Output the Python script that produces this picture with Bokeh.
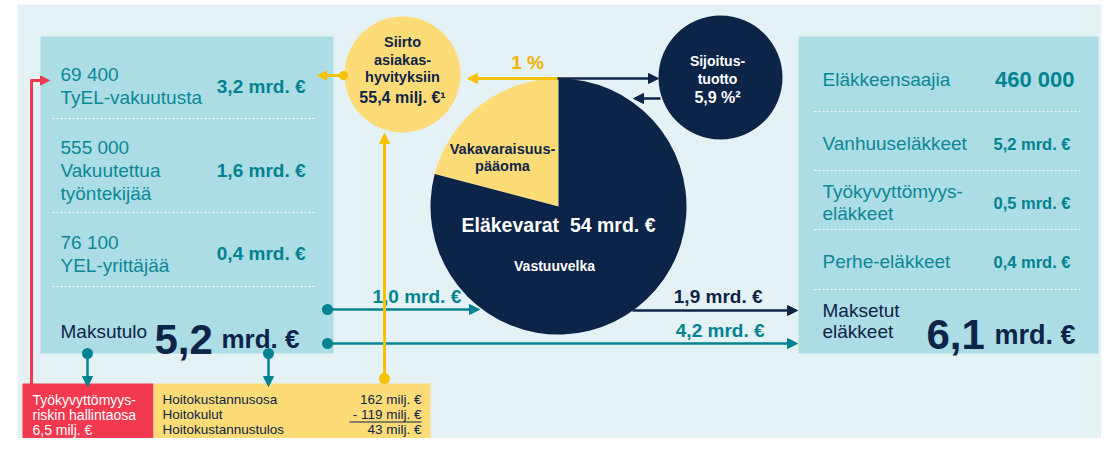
import math
from bokeh.plotting import figure
from bokeh.models import Range1d, Arrow, NormalHead
from bokeh.core.properties import value
from bokeh.embed import file_html
from bokeh.resources import INLINE

# ---------------- data ----------------
left_counts = ["69 400", "555 000", "76 100"]
left_groups = [["TyEL-vakuutusta"], ["Vakuutettua", "työntekijää"], ["YEL-yrittäjää"]]
left_amounts = [3.2, 1.6, 0.4]          # mrd. €
premium_total = 5.2                     # mrd. €

pensioners = "460 000"
pension_types = [["Vanhuuseläkkeet"], ["Työkyvyttömyys-", "eläkkeet"], ["Perhe-eläkkeet"]]
pension_amounts = [5.2, 0.5, 0.4]       # mrd. €
paid_total = 6.1                        # mrd. €

flow_premium_to_assets = 1.0            # mrd. €
flow_assets_to_pensions = 1.9           # mrd. €
flow_premium_to_pensions = 4.2          # mrd. €

pie_labels = [["Vakavaraisuus-", "pääoma"], ["Vastuuvelka"]]
pie_values = [11.3, 42.7]               # mrd. €, total 54
assets_total = 54

bonus_share = 1                         # %
customer_bonus = 55.4                   # milj. €
investment_return = 5.9                 # %

admin_rows = ["Hoitokustannusosa", "Hoitokulut", "Hoitokustannustulos"]
admin_values = [162, -119, 43]          # milj. €
disability_lines = ["Työkyvyttömyys-", "riskin hallintaosa"]
disability_value = 6.5                  # milj. €

# ---------------- styles ----------------
BG = "#e5f2f5"
BOX = "#acdce4"
TEAL = "#0b8896"
TEAL_B = "#008391"
NAVY = "#0c2447"
YEL = "#fddc78"
YEL_LINE = "#f7c300"
YEL_TXT = "#f0b400"
RED = "#f2394f"
FONT = "Liberation Sans"
NBSP = "\u00a0"


def fmt(v, unit="mrd. €"):
    return f"{v:.1f}".replace(".", ",") + NBSP + unit


p = figure(width=1101, height=438, x_range=Range1d(0, 1101), y_range=Range1d(16, 454),
           output_backend="svg", toolbar_location=None, min_border=0,
           x_axis_location=None, y_axis_location=None)
p.grid.visible = False
p.outline_line_color = None
p.background_fill_color = "white"
p.border_fill_color = "white"


def Y(v):
    return 454 - v


def box(l, r, t, b, color):
    p.quad(left=[l], right=[r], top=[Y(t)], bottom=[Y(b)], fill_color=color, line_color=None)


def txt(x, y, s, size, color, bold=False, align="left", baseline="middle"):
    p.text(x=[x], y=[Y(y)], text=[s], text_font=value(FONT), text_font_size=f"{size}px",
           text_color=color, text_font_style="bold" if bold else "normal",
           text_align=align, text_baseline=baseline)


def arrow(x0, y0, x1, y1, color, w=3, head=10):
    p.add_layout(Arrow(end=NormalHead(size=head, fill_color=color, line_color=color, line_width=1),
                       x_start=x0, y_start=Y(y0), x_end=x1, y_end=Y(y1),
                       line_color=color, line_width=w))


def dot(x, y, color, size=11):
    p.scatter(x=[x], y=[Y(y)], size=size, fill_color=color, line_color=None)


def dash(x0, x1, y):
    p.line(x=[x0, x1], y=[Y(y), Y(y)], line_color="white", line_width=1, line_dash="2 2", line_alpha=0.9)


# background
box(17, 1117, 4, 454, BG)

# ---------- left box ----------
box(40, 333, 36, 353, BOX)
for yy in [118, 212, 286]:
    dash(52, 315, yy)

left_y = [(74, 86), (147, 170), (242, 253)]
for (ytop, yval), cnt, grp, amt in zip(left_y, left_counts, left_groups, left_amounts):
    txt(60, ytop, cnt, 19, TEAL)
    for i, line in enumerate(grp):
        txt(60, ytop + 23 * (i + 1), line, 19, TEAL)
    txt(305, yval, fmt(amt), 19, TEAL_B, bold=True, align="right")

txt(60, 331, "Maksutulo", 19, NAVY)
txt(154, 339, f"{premium_total:.1f}".replace(".", ","), 42, NAVY, bold=True, baseline="alphabetic")
txt(221, 338, "mrd. €", 26, NAVY, bold=True, baseline="alphabetic")

# ---------- right box ----------
box(798, 1098, 36, 353, BOX)
for yy in [111, 170, 229, 289]:
    dash(814, 1080, yy)

txt(822, 79, "Eläkkeensaajia", 19, TEAL)
txt(1074, 79, pensioners, 22, TEAL_B, bold=True, align="right")
right_y = [(143, 143), (191, 202), (261, 261)]
for (ytop, yval), grp, amt in zip(right_y, pension_types, pension_amounts):
    for i, line in enumerate(grp):
        txt(822, ytop + 22 * i, line, 19, TEAL)
    txt(1070, yval, fmt(amt), 16.5, TEAL_B, bold=True, align="right")

txt(822, 310, "Maksetut", 19, NAVY)
txt(822, 331, "eläkkeet", 19, NAVY)
txt(926, 334, f"{paid_total:.1f}".replace(".", ","), 42, NAVY, bold=True, baseline="alphabetic")
txt(994, 334, "mrd. €", 27, NAVY, bold=True, baseline="alphabetic")

# ---------- bottom boxes ----------
box(22, 153, 383, 460, RED)
box(153, 430, 383, 460, YEL)
row_y = [399, 414, 429]
for yy, line in zip(row_y, disability_lines + [fmt(disability_value, "milj. €")]):
    txt(32, yy, line, 14, "white")
for yy, lab, v in zip(row_y, admin_rows, admin_values):
    txt(162, yy, lab, 13.5, NAVY)
    s = (f"- {abs(v)}" if v < 0 else f"{v}") + " milj. €"
    txt(421, yy, s, 13.5, NAVY, align="right")
p.segment(x0=[349], y0=[Y(421.5)], x1=[421], y1=[Y(421.5)], line_color=NAVY, line_width=1)

# ---------- flow labels ----------
txt(372, 296, fmt(flow_premium_to_assets), 19, TEAL_B, bold=True)
txt(762, 296, fmt(flow_assets_to_pensions), 19, NAVY, bold=True, align="right")
txt(764, 330, fmt(flow_premium_to_pensions), 19, TEAL_B, bold=True, align="right")

# ---------- pie ----------
cx, cy, R = 558, 206, 128
total = sum(pie_values)
start = math.pi / 2
pie_colors = [YEL, NAVY]
for v, c in zip(pie_values, pie_colors):
    end = start + 2 * math.pi * v / total
    p.wedge(x=[cx], y=[Y(cy)], radius=R, start_angle=start, end_angle=end,
            fill_color=c, line_color=None)
    start = end

txt(502, 148, pie_labels[0][0], 14.5, NAVY, bold=True, align="center")
txt(502, 165, pie_labels[0][1], 14.5, NAVY, bold=True, align="center")
txt(558, 224, f"Eläkevarat{NBSP}{NBSP}{assets_total}{NBSP}mrd.{NBSP}€", 19.5, "white", bold=True, align="center")
txt(554, 265, pie_labels[1][0], 14, "white", bold=True, align="center")

# ---------- small circles ----------
p.circle(x=[402], y=[Y(74)], radius=58, fill_color=YEL, line_color=None)
for yy, s, sz in [(41, "Siirto", 14.5), (59, "asiakas-", 14.5), (76, "hyvityksiin", 14.5),
                  (97, fmt(customer_bonus, "milj. €") + "¹", 16)]:
    txt(402, yy, s, sz, NAVY, bold=True, align="center")

p.circle(x=[720], y=[Y(77)], radius=62, fill_color=NAVY, line_color=None)
for yy, s, sz in [(60, "Sijoitus-", 14), (78, "tuotto", 14),
                  (97, f"{investment_return:.1f}".replace(".", ",") + " %²", 16)]:
    txt(717, yy, s, sz, "white", bold=True, align="center")

txt(527, 62, f"{bonus_share} %", 19, YEL_TXT, bold=True, align="center")

# ---------- arrows / lines ----------
# red
p.line(x=[31, 31], y=[Y(385), Y(80)], line_color=RED, line_width=3)
arrow(30, 80, 49, 80, RED, w=3, head=9)
# teal down arrows
for xx in [87, 268]:
    arrow(xx, 353, xx, 386, TEAL_B, w=2.5, head=10)
    dot(xx, 353, TEAL_B)
# teal horizontal
arrow(327, 309, 479, 309, TEAL_B, w=2.5, head=10)
dot(327, 309, TEAL_B)
arrow(327, 343, 797, 343, TEAL_B, w=2.5, head=10)
dot(327, 343, TEAL_B)
# navy 1.9
arrow(632, 310, 797, 310, NAVY, w=2.5, head=10)
# yellow vertical
arrow(384, 378, 384, 133, YEL_LINE, w=3, head=10)
dot(384, 378, YEL_LINE)
# top flows
arrow(555, 78, 658, 78, NAVY, w=2.5, head=10)
arrow(557, 78, 467, 78, YEL_LINE, w=3, head=10)
arrow(660, 98, 633, 98, NAVY, w=2.5, head=10)
# yellow small left arrow
arrow(343, 75, 317, 75, YEL_LINE, w=3, head=9)
dot(343, 75, YEL_LINE, size=9)

open("out.html", "w").write(file_html(p, INLINE))
